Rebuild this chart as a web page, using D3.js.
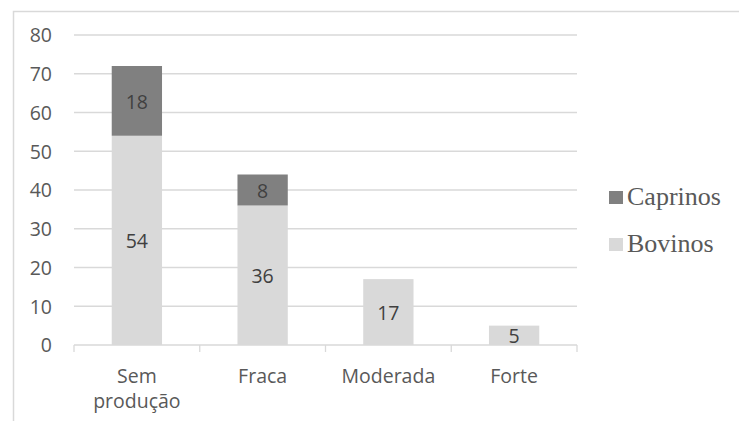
<!DOCTYPE html>
<html>
<head>
<meta charset="utf-8">
<script src="https://cdn.jsdelivr.net/npm/d3@7"></script>
<style>
  body { margin: 0; background: #fff; }
  svg { display: block; }
</style>
</head>
<body>
<svg id="chart" width="739" height="421"></svg>
<script>
var categories = [["Sem", "produção"], ["Fraca"], ["Moderada"], ["Forte"]];
var bovinos = [54, 36, 17, 5];
var caprinos = [18, 8, 0, 0];
var yTicks = [0, 10, 20, 30, 40, 50, 60, 70, 80];
var seriesNames = ["Caprinos", "Bovinos"];
var seriesColors = {"Caprinos": "#808080", "Bovinos": "#d9d9d9"};

var svg = d3.select("#chart");
var plotLeft = 74, plotRight = 577, plotTop = 35, plotBottom = 345;
var labelFont = "'Open Sans', sans-serif";

// outer chart border
svg.append("rect")
    .attr("x", 13.5).attr("y", 11.5)
    .attr("width", 800).attr("height", 500)
    .attr("fill", "none")
    .attr("stroke", "#d9d9d9")
    .attr("stroke-width", 1.5);

var x = d3.scaleBand()
    .domain(d3.range(categories.length))
    .range([plotLeft, plotRight])
    .paddingInner(0.6)
    .paddingOuter(0.3);

var y = d3.scaleLinear().domain([0, 80]).range([plotBottom, plotTop]);

// gridlines
svg.append("g").selectAll("line")
    .data(yTicks.slice(1))
    .enter().append("line")
    .attr("x1", plotLeft).attr("x2", plotRight)
    .attr("y1", function (d) { return y(d); })
    .attr("y2", function (d) { return y(d); })
    .attr("stroke", "#d9d9d9")
    .attr("stroke-width", 1.3);

// y axis labels
var yAxis = d3.axisLeft(y).tickValues(yTicks).tickSize(0).tickPadding(22);
var yg = svg.append("g").attr("transform", "translate(" + plotLeft + ",0)").call(yAxis);
yg.select(".domain").remove();
yg.selectAll("text")
    .attr("fill", "#595959")
    .attr("dy", "0.35em")
    .style("font-family", labelFont)
    .style("font-size", "19.5px");

// stacked bars
var stackData = categories.map(function (c, i) {
    return {i: i, Bovinos: bovinos[i], Caprinos: caprinos[i]};
});
var stack = d3.stack().keys(["Bovinos", "Caprinos"])(stackData);

var layers = svg.append("g").selectAll("g")
    .data(stack)
    .enter().append("g")
    .attr("fill", function (d) { return seriesColors[d.key]; });

layers.selectAll("rect")
    .data(function (d) { return d.filter(function (p) { return p[1] - p[0] > 0; }); })
    .enter().append("rect")
    .attr("x", function (d) { return x(d.data.i); })
    .attr("width", x.bandwidth())
    .attr("y", function (d) { return y(d[1]); })
    .attr("height", function (d) { return y(d[0]) - y(d[1]); });

// value labels
layers.each(function (layer) {
    d3.select(this).selectAll("text")
        .data(layer.filter(function (p) { return p[1] - p[0] > 0; }))
        .enter().append("text")
        .attr("x", function (d) { return x(d.data.i) + x.bandwidth() / 2; })
        .attr("y", function (d) { return (y(d[0]) + y(d[1])) / 2 + 1; })
        .attr("dy", "0.35em")
        .attr("text-anchor", "middle")
        .attr("fill", "#404040")
        .style("font-family", labelFont)
        .style("font-size", "19.5px")
        .text(function (d) { return d[1] - d[0]; });
});

// x axis
var xg = svg.append("g").attr("transform", "translate(0," + plotBottom + ")");
xg.append("line")
    .attr("x1", plotLeft).attr("x2", plotRight)
    .attr("stroke", "#d9d9d9").attr("stroke-width", 1.3);
var step = (plotRight - plotLeft) / categories.length;
xg.selectAll("line.tick")
    .data(d3.range(categories.length + 1))
    .enter().append("line")
    .attr("class", "tick")
    .attr("x1", function (d) { return plotLeft + d * step; })
    .attr("x2", function (d) { return plotLeft + d * step; })
    .attr("y1", 0).attr("y2", 7)
    .attr("stroke", "#d9d9d9").attr("stroke-width", 1.3);

xg.selectAll("text.cat")
    .data(categories)
    .enter().append("text")
    .attr("class", "cat")
    .attr("x", function (d, i) { return x(i) + x.bandwidth() / 2; })
    .attr("y", 38)
    .attr("text-anchor", "middle")
    .attr("fill", "#595959")
    .style("font-family", labelFont)
    .style("font-size", "19.5px")
    .each(function (d) {
        var t = d3.select(this);
        d.forEach(function (line, k) {
            t.append("tspan")
                .attr("x", t.attr("x"))
                .attr("dy", k === 0 ? 0 : 25)
                .text(line);
        });
    });

// legend
var legend = svg.append("g").selectAll("g")
    .data(seriesNames)
    .enter().append("g")
    .attr("transform", function (d, i) { return "translate(609," + (191 + i * 47) + ")"; });
legend.append("rect")
    .attr("width", 14).attr("height", 13)
    .attr("fill", function (d) { return seriesColors[d]; });
legend.append("text")
    .attr("x", 18).attr("y", 14)
    .attr("fill", "#595959")
    .style("font-family", "'Liberation Serif', 'Times New Roman', serif")
    .style("font-size", "26px")
    .text(function (d) { return d; });
</script>
</body>
</html>
